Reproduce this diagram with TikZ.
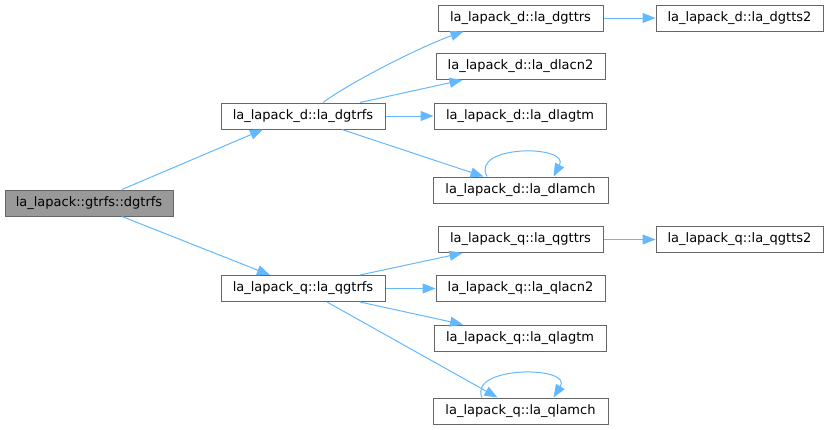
\documentclass[tikz,border=0pt]{standalone}
\usepackage{fontspec}
\setmainfont{DejaVu Sans}
\usetikzlibrary{arrows.meta}
\definecolor{edgeblue}{HTML}{63B8FF}
\definecolor{nodeborder}{HTML}{666666}
\definecolor{rootfill}{HTML}{999999}
\begin{document}
\begin{tikzpicture}[x=1pt,y=-1pt,
  fn/.style={draw=nodeborder,line width=1pt,fill=white,minimum height=26pt,inner sep=0pt,
    font=\fontsize{13}{15}\selectfont,anchor=center},
  rootfn/.style={fn,fill=rootfill},
  call/.style={draw=edgeblue,line width=1pt,-{Triangle[length=13pt,width=10pt]}}]
\useasboundingbox (0,0) rectangle (828,429);
\node[rootfn,minimum width=168pt] (gtrfs) at (89,203) {la\_lapack::gtrfs::dgtrfs};
\node[fn,minimum width=164pt] (dgtrfs) at (303,116) {la\_lapack\_d::la\_dgtrfs};
\node[fn,minimum width=164pt] (qgtrfs) at (303,288.5) {la\_lapack\_q::la\_qgtrfs};
\node[fn,minimum width=165pt] (dgttrs) at (520.5,18) {la\_lapack\_d::la\_dgttrs};
\node[fn,minimum width=167pt] (dgtts2) at (739.5,18) {la\_lapack\_d::la\_dgtts2};
\node[fn,minimum width=169pt] (dlacn2) at (520.5,66.5) {la\_lapack\_d::la\_dlacn2};
\node[fn,minimum width=172pt] (dlagtm) at (520,116) {la\_lapack\_d::la\_dlagtm};
\node[fn,minimum width=175pt] (dlamch) at (520.5,190) {la\_lapack\_d::la\_dlamch};
\node[fn,minimum width=165pt] (qgttrs) at (520.5,239.5) {la\_lapack\_q::la\_qgttrs};
\node[fn,minimum width=167pt] (qgtts2) at (739.5,239.5) {la\_lapack\_q::la\_qgtts2};
\node[fn,minimum width=169pt] (qlacn2) at (520.5,288.5) {la\_lapack\_q::la\_qlacn2};
\node[fn,minimum width=172pt] (qlagtm) at (520,338) {la\_lapack\_q::la\_qlagtm};
\node[fn,minimum width=175pt] (qlamch) at (520.5,411) {la\_lapack\_q::la\_qlamch};
% edges
\draw[call] ([xshift=33pt]gtrfs.north) -- ([xshift=-40pt]dgtrfs.south);
\draw[call] ([xshift=33pt]gtrfs.south) -- ([xshift=-33pt]qgtrfs.north);
\draw[call] ([xshift=20pt]dgtrfs.north) .. controls +(30,-22) and +(-40,14) .. ([xshift=-57pt]dgttrs.south);
\draw[call] ([xshift=57pt]dgtrfs.north) -- ([xshift=-58pt]dlacn2.south);
\draw[call] (dgtrfs.east) -- (dlagtm.west);
\draw[call] ([xshift=39pt]dgtrfs.south) -- ([xshift=-37pt]dlamch.north);
\draw[call] ([xshift=-33.5pt]dlamch.north) .. controls +(-17,-32) and +(17,-32) .. ([xshift=33pt]dlamch.north);
\draw[call] (dgttrs.east) -- (dgtts2.west);
\draw[call] ([xshift=57pt]qgtrfs.north) -- ([xshift=-58pt]qgttrs.south);
\draw[call] (qgttrs.east) -- (qgtts2.west);
\draw[call] (qgtrfs.east) -- (qlacn2.west);
\draw[call] ([xshift=57pt]qgtrfs.south) -- ([xshift=-57pt]qlagtm.north);
\draw[call] ([xshift=24pt]qgtrfs.south) -- ([xshift=-23pt]qlamch.north);
\draw[call] ([xshift=-38.5pt]qlamch.north) .. controls +(-14,-32) and +(20,-32) .. ([xshift=33pt]qlamch.north);
\end{tikzpicture}
\end{document}
